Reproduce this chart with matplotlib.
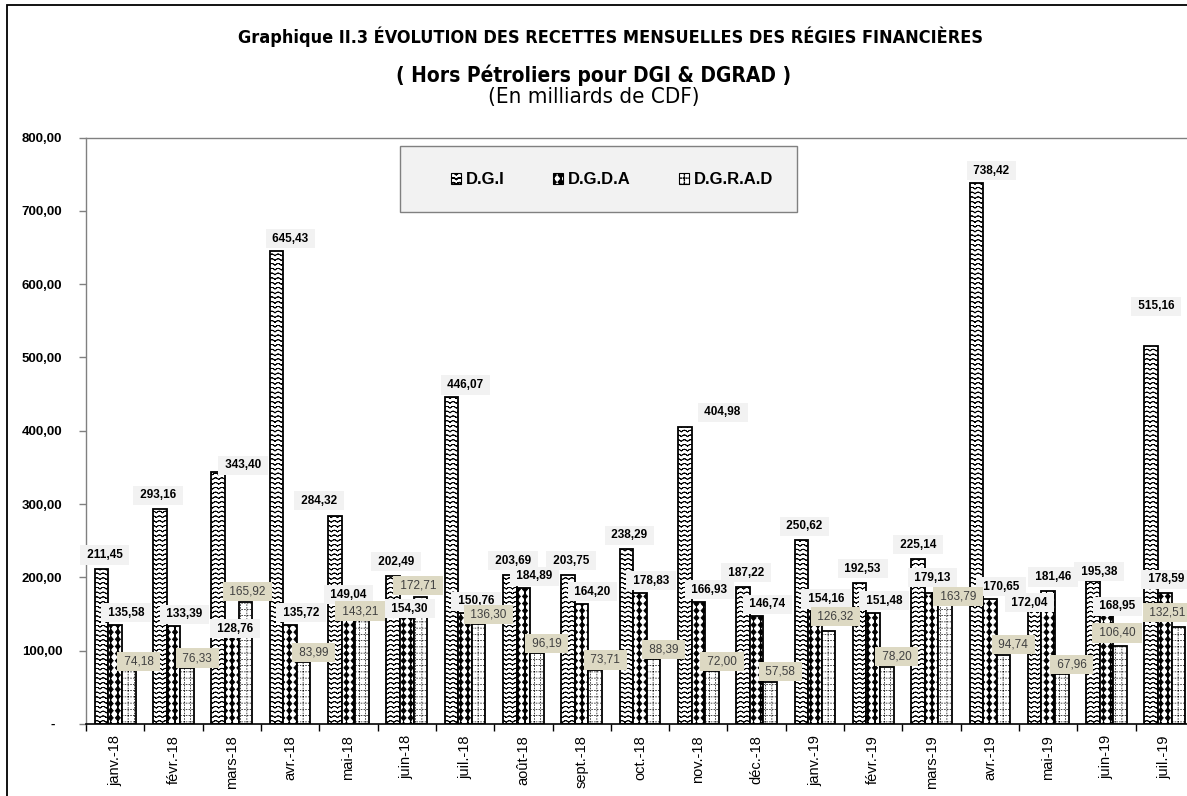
import numpy as np
import matplotlib
matplotlib.use('Agg')
import matplotlib.pyplot as plt
import matplotlib.hatch as mhatch
from matplotlib.path import Path
from matplotlib.patches import Rectangle, Patch

# ---------------- data ----------------
months = ['janv.-18', 'févr.-18', 'mars-18', 'avr.-18', 'mai-18', 'juin-18',
          'juil.-18', 'août-18', 'sept.-18', 'oct.-18', 'nov.-18', 'déc.-18',
          'janv.-19', 'févr.-19', 'mars-19', 'avr.-19', 'mai-19', 'juin-19',
          'juil.-19']
dgi = [211.45, 293.16, 343.40, 645.43, 284.32, 202.49, 446.07, 203.69, 203.75,
       238.29, 404.98, 187.22, 250.62, 192.53, 225.14, 738.42, 172.04, 195.38,
       515.16]
dgda = [135.58, 133.39, 128.76, 135.72, 149.04, 154.30, 150.76, 184.89, 164.20,
        178.83, 166.93, 146.74, 154.16, 151.48, 179.13, 170.65, 181.46, 168.95,
        178.59]
dgrad = [74.18, 76.33, 165.92, 83.99, 143.21, 172.71, 136.30, 96.19, 73.71,
         88.39, 72.00, 57.58, 126.32, 78.20, 163.79, 94.74, 67.96, 106.40,
         132.51]
series_names = ['D.G.I', 'D.G.D.A', 'D.G.R.A.D']
y_ticks = [0, 100, 200, 300, 400, 500, 600, 700, 800]

title1 = "Graphique II.3 ÉVOLUTION DES RECETTES MENSUELLES DES RÉGIES FINANCIÈRES"
title2 = "( Hors Pétroliers pour DGI & DGRAD )"
title3 = "(En milliards de CDF)"


# ---------------- custom hatch patterns ----------------
class _CustomHatch(mhatch.HatchPatternBase):
    char = ''

    def __init__(self, hatch, density):
        if hatch and self.char in hatch:
            v, c = self.build()
        else:
            v = np.empty((0, 2))
            c = np.empty(0, dtype=Path.code_type)
        self._v, self._c = v, c
        self.num_vertices = len(v)

    def set_vertices_and_codes(self, vertices, codes):
        vertices[:] = self._v
        codes[:] = self._c


def _polyline(pts, retrace=True):
    pts = np.asarray(pts, float)
    if retrace:
        pts = np.vstack([pts, pts[::-1][1:]])
    c = np.full(len(pts), Path.LINETO, dtype=Path.code_type)
    c[0] = Path.MOVETO
    return pts, c


class WaveHatch(_CustomHatch):
    char = '*'

    def build(self):
        n_rows, k = 21, 16
        xs = np.linspace(0, 1, k * 8 + 1)
        vs, cs = [], []
        for j in range(n_rows):
            y0 = (j + 0.3) / n_rows
            ys = y0 + 0.017 * np.abs(np.sin(np.pi * k * xs))
            v, c = _polyline(np.column_stack([xs, ys]))
            vs.append(v); cs.append(c)
        return np.vstack(vs), np.concatenate(cs)


class BeadHatch(_CustomHatch):
    char = 'o'

    def build(self):
        ncol, nrow = 14, 14
        w, h = 0.026, 0.029
        vs, cs = [], []
        for i in range(ncol):
            x = (i + 0.5) / ncol
            v, c = _polyline([[x, 0.0], [x, 1.0]])
            vs.append(v); cs.append(c)
            for j in range(nrow):
                y = (j + 0.5) / nrow
                v = np.array([[x, y + h], [x + w, y], [x, y - h], [x - w, y], [x, y + h]])
                c = np.array([Path.MOVETO, Path.LINETO, Path.LINETO, Path.LINETO,
                              Path.CLOSEPOLY], dtype=Path.code_type)
                vs.append(v); cs.append(c)
        return np.vstack(vs), np.concatenate(cs)


class DotGridHatch(_CustomHatch):
    char = 'O'

    def build(self):
        n = 16
        period = 1 / 36
        dash = 0.009
        starts = np.arange(0, 1, period)
        vs, cs = [], []
        for i in range(n):
            p = (i + 0.5) / n
            for s in starts:
                for seg in ([[s, p], [s + dash, p]], [[p, s], [p, s + dash]]):
                    v = np.array(seg)
                    c = np.array([Path.MOVETO, Path.LINETO], dtype=Path.code_type)
                    vs.append(v); cs.append(c)
        return np.vstack(vs), np.concatenate(cs)


mhatch._hatch_types[:] = [mhatch.HorizontalHatch, mhatch.VerticalHatch,
                          mhatch.NorthEastHatch, mhatch.SouthEastHatch,
                          mhatch.SmallFilledCircles,
                          WaveHatch, BeadHatch, DotGridHatch]

hatches = ['*', 'o', 'O']
hatch_lw = [0.6, 0.6, 0.5]

# ---------------- figure ----------------
W, H = 1187, 796
fig = plt.figure(figsize=(W / 100, H / 100), dpi=100)
fig.patch.set_facecolor('white')
FONT = 'Liberation Sans'
TITLE_FONT = 'DejaVu Sans'

ax = fig.add_axes([86 / W, 1 - 724 / H, (1194 - 86) / W, (724 - 137.5) / H])

x = np.arange(len(months))
bw = 0.233
all_vals = [dgi, dgda, dgrad]
for k, vals in enumerate(all_vals):
    with plt.rc_context({'hatch.linewidth': hatch_lw[k], 'hatch.color': 'black'}):
        bars = ax.bar(x + (k - 1) * bw, vals, bw, facecolor='white',
                      edgecolor='black', linewidth=1.3, hatch=hatches[k], zorder=2)
        for b in bars:
            if hasattr(b, 'set_hatch_linewidth'):
                b.set_hatch_linewidth(hatch_lw[k])

ax.set_xlim(-0.5, len(months) - 0.5)
ax.set_ylim(0, 800)

# ---------------- data labels ----------------
def fmt(v):
    return f"{v:.2f}".replace('.', ',')

default_off = [(3, 14), (11, 12), (10, 10)]
special_off = [
    {1: (-2, 14), 2: (25, 7), 3: (14, 12), 4: (-16, 15), 6: (14, 12), 10: (38, 15),
     15: (15, 12), 16: (-5, -5), 17: (6, 9), 18: (5, 40), 14: (0, 14)},
    {2: (3, 1), 4: (0, 20), 5: (3, 2), 14: (1, 15), 16: (5, 14), 17: (11, -6),
     18: (1, 14)},
    {0: (10, 8), 2: (2, 11), 4: (-2, 8), 5: (-2, 12), 12: (7, 15), 14: (13, 7),
     17: (-3, 13), 18: (-11, 14)},
]
label_style = [
    dict(weight='bold', color='black', fc='#f2f2f2'),
    dict(weight='bold', color='black', fc='#f2f2f2'),
    dict(weight='normal', color='#404040', fc='#ddd9c3'),
]
for k, vals in enumerate(all_vals):
    st = label_style[k]
    for i, v in enumerate(vals):
        dx, dy = special_off[k].get(i, default_off[k])
        ax.annotate(' ' + fmt(v) + ' ', xy=(x[i] + (k - 1) * bw, v),
                    xytext=(dx, dy), textcoords='offset pixels',
                    ha='center', va='center', fontsize=8.5, family=FONT,
                    fontweight=st['weight'], color=st['color'], zorder=5,
                    bbox=dict(boxstyle='square,pad=0.3', fc=st['fc'], ec='none'))

# ---------------- axes styling ----------------
ax.set_xticks(x)
ax.set_xticklabels(months, rotation=90, fontsize=10.5, family=FONT)
ax.set_xticks(np.arange(-0.5, len(months), 1), minor=True)
ax.tick_params(axis='x', which='major', length=0, pad=8)
ax.tick_params(axis='x', which='minor', length=5, width=1, color='black',
               direction='out')

ax.set_yticks(y_ticks)
ax.set_yticklabels(['-  ' if t == 0 else f"{t:.2f}".replace('.', ',') for t in y_ticks],
                   fontsize=9.5, family=FONT, fontweight='bold')
ax.tick_params(axis='y', length=5, width=1, color='#808080', pad=12)

for side in ['left', 'top', 'right']:
    ax.spines[side].set_color('#808080')
    ax.spines[side].set_linewidth(1)
ax.spines['bottom'].set_color('black')
ax.spines['bottom'].set_linewidth(1.2)
ax.set_facecolor('white')

# ---------------- legend ----------------
fig.add_artist(Rectangle((400 / W, 1 - 212 / H), 397 / W, 66 / H,
                         transform=fig.transFigure, fc='#f2f2f2', ec='#808080',
                         lw=1, zorder=1))
handles = []
for k in range(3):
    with plt.rc_context({'hatch.linewidth': hatch_lw[k]}):
        p = Patch(facecolor='white', edgecolor='black', hatch=hatches[k], linewidth=0.8)
        if hasattr(p, 'set_hatch_linewidth'):
            p.set_hatch_linewidth(hatch_lw[k])
    handles.append(p)
fig.legend(handles, series_names, loc='center',
           bbox_to_anchor=(612 / W, 1 - 180 / H), bbox_transform=fig.transFigure,
           ncol=3, frameon=False,
           prop=dict(family=FONT, weight='bold', size=12),
           handlelength=0.6, handleheight=0.6, handletextpad=0.3,
           columnspacing=2.9, borderpad=0)

# ---------------- titles ----------------
fig.text(611 / W, 1 - 37 / H, title1, ha='center', va='center',
         family=TITLE_FONT, fontstretch='condensed', fontweight='bold', fontsize=13)
fig.text(594 / W, 1 - 75 / H, title2, ha='center', va='center',
         family=TITLE_FONT, fontstretch='condensed', fontweight='bold', fontsize=15)
fig.text(594 / W, 1 - 97 / H, title3, ha='center', va='center',
         family=TITLE_FONT, fontstretch='condensed', fontsize=16)

# outer chart border
fig.add_artist(Rectangle((7 / W, -0.05), 2, 1.05 - 5 / H,
                         transform=fig.transFigure, fill=False, ec='black', lw=1.3))

fig.savefig('out.png', dpi=100)
